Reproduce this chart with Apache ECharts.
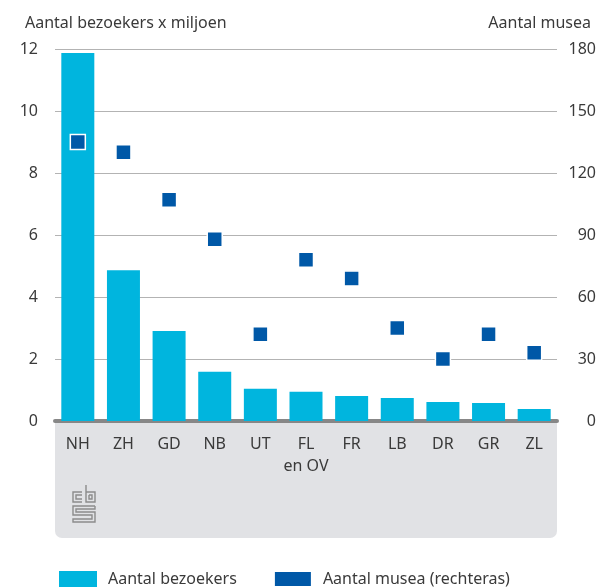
<!DOCTYPE html>
<html>
<head>
<meta charset="utf-8">
<script src="https://cdn.jsdelivr.net/npm/echarts@6/dist/echarts.min.js"></script>
<style>
  html, body { margin: 0; padding: 0; background: #fff; }
  #chart { width: 600px; height: 587px; }
</style>
</head>
<body>
<div id="chart"></div>
<script>
// provincies
const provincies = ["NH", "ZH", "GD", "NB", "UT", "FL\nen OV", "FR", "LB", "DR", "GR", "ZL"];
// bezoekers x miljoen (linkeras)
const bezoekers = [11.87, 4.86, 2.9, 1.59, 1.04, 0.94, 0.81, 0.74, 0.61, 0.58, 0.39];
// aantal musea (rechteras)
const musea = [135, 130, 107, 88, 42, 78, 69, 45, 30, 42, 33];
const linksTicks = [0, 2, 4, 6, 8, 10, 12];
const rechtsTicks = [0, 30, 60, 90, 120, 150, 180];

const font = "Noto Sans";
const tekstKleur = "#3a3a3a";

const chart = echarts.init(document.getElementById("chart"), null, { renderer: "canvas" });

// cbs logo, grijs lijnwerk
const logoX = 72, logoY = 485;
const p = (pts) => pts.map(([x, y]) => [logoX + x, logoY + y]);
const logoStyle = { stroke: "#8c8c8c", lineWidth: 1.4, fill: null };
const logo = [
  p([[10, 7], [1, 7], [1, 17], [10, 17]]),
  p([[10, 10], [4, 10], [4, 14], [10, 14]]),
  p([[14, 0], [14, 17], [23, 17], [23, 7], [14, 7]]),
  p([[17, 10], [20, 10], [20, 14], [17, 14], [17, 10]]),
  p([[23, 21], [1, 21], [1, 30], [20, 30], [20, 34], [1, 34], [1, 37], [23, 37], [23, 27], [4, 27], [4, 24], [23, 24], [23, 21]])
].map((pts) => ({
  type: "polyline",
  silent: true,
  z: -5,
  shape: { points: pts },
  style: logoStyle
}));

const option = {
  backgroundColor: "#fff",
  animation: false,
  textStyle: { fontFamily: font },
  title: [
    {
      text: "Aantal bezoekers x miljoen",
      left: 20,
      top: 10,
      textStyle: { fontFamily: font, fontSize: 16, fontWeight: "normal", color: tekstKleur }
    },
    {
      text: "Aantal musea",
      right: 4,
      top: 10,
      textStyle: { fontFamily: font, fontSize: 16, fontWeight: "normal", color: tekstKleur }
    }
  ],
  grid: { left: 55, right: 43, top: 49, bottom: 166 },
  legend: {
    left: 54,
    top: 565,
    icon: "rect",
    itemWidth: 38,
    itemHeight: 16,
    itemGap: 36,
    textStyle: { fontFamily: font, fontSize: 16, color: tekstKleur, padding: [0, 0, 0, 6] },
    data: ["Aantal bezoekers", "Aantal musea (rechteras)"]
  },
  graphic: [
    {
      type: "rect",
      silent: true,
      z: -10,
      shape: { x: 55, y: 421, width: 502, height: 117, r: [0, 0, 7, 7] },
      style: { fill: "#e1e2e5" }
    }
  ].concat(logo),
  xAxis: {
    type: "category",
    data: provincies,
    axisTick: { show: false },
    axisLine: { lineStyle: { color: "#878787", width: 4 } },
    axisLabel: {
      interval: 0,
      margin: 12,
      fontFamily: font,
      fontSize: 16,
      lineHeight: 22,
      color: tekstKleur,
      verticalAlign: "top"
    }
  },
  yAxis: [
    {
      type: "value",
      min: linksTicks[0],
      max: linksTicks[linksTicks.length - 1],
      interval: 2,
      axisLine: { show: false },
      axisTick: { show: false },
      splitLine: { lineStyle: { color: "#b3b3b3", width: 1 } },
      axisLabel: { margin: 17, fontFamily: font, fontSize: 16, color: tekstKleur }
    },
    {
      type: "value",
      min: rechtsTicks[0],
      max: rechtsTicks[rechtsTicks.length - 1],
      interval: 30,
      axisLine: { show: false },
      axisTick: { show: false },
      splitLine: { show: false },
      axisLabel: {
        margin: 39,
        align: "right",
        fontFamily: font,
        fontSize: 16,
        color: tekstKleur
      }
    }
  ],
  series: [
    {
      name: "Aantal bezoekers",
      type: "bar",
      data: bezoekers,
      barWidth: 33,
      itemStyle: { color: "#00b5de" }
    },
    {
      name: "Aantal musea (rechteras)",
      type: "scatter",
      yAxisIndex: 1,
      data: musea,
      symbol: "rect",
      symbolSize: 15,
      z: 5,
      itemStyle: { color: "#0058a7", borderColor: "#fff", borderWidth: 1.5, opacity: 1 }
    }
  ]
};

chart.setOption(option);
</script>
</body>
</html>
